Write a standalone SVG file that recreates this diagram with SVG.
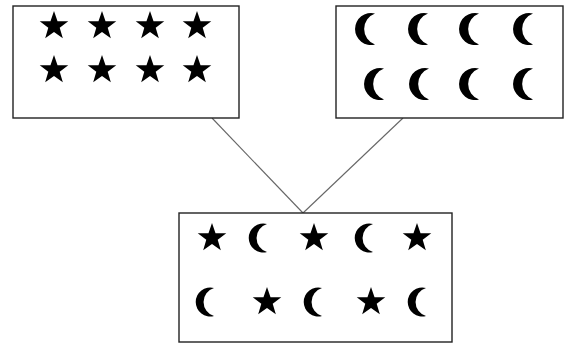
<svg xmlns="http://www.w3.org/2000/svg" xmlns:xlink="http://www.w3.org/1999/xlink" width="568" height="343" viewBox="0 0 568 343">
<style>
.box{fill:#fff;stroke:#222;stroke-width:1.4}
.conn{stroke:#666;stroke-width:1.1;fill:none}
.sym{fill:#000}
</style>
<defs>
<path id="star" class="sym" d="M0,-15 L3.52,-4.85 L14.27,-4.64 L5.71,1.85 L8.82,12.14 L0,6 L-8.82,12.14 L-5.71,1.85 L-14.27,-4.64 L-3.52,-4.85 Z"/>
<path id="moon" class="sym" d="M4,-15.5 A16,16 0 1 0 4,15.5 A16.5,16.5 0 0 1 4,-15.5 Z"/>
<path id="moon2" class="sym" d="M4,-14 A14.5,14.5 0 1 0 4,14 A14.6,14.6 0 0 1 4,-14 Z"/>
</defs>
<rect width="568" height="343" fill="#fff"/>
<g id="connectors">
<line class="conn" x1="212" y1="118" x2="303" y2="213"/>
<line class="conn" x1="403" y1="118" x2="303" y2="213"/>
</g>
<g id="stars-box">
<rect class="box" x="13" y="6" width="226" height="112"/>
<use xlink:href="#star" x="54" y="26"/>
<use xlink:href="#star" x="102" y="26"/>
<use xlink:href="#star" x="150" y="26"/>
<use xlink:href="#star" x="197" y="26"/>
<use xlink:href="#star" x="54" y="70"/>
<use xlink:href="#star" x="102" y="70"/>
<use xlink:href="#star" x="150" y="70"/>
<use xlink:href="#star" x="197" y="70"/>
</g>
<g id="moons-box">
<rect class="box" x="336" y="6" width="227" height="112"/>
<use xlink:href="#moon" x="371" y="29"/>
<use xlink:href="#moon" x="424" y="29"/>
<use xlink:href="#moon" x="475" y="29"/>
<use xlink:href="#moon" x="529" y="29"/>
<use xlink:href="#moon" x="380" y="84"/>
<use xlink:href="#moon" x="425" y="84"/>
<use xlink:href="#moon" x="475" y="84"/>
<use xlink:href="#moon" x="529" y="84"/>
</g>
<g id="mixed-box">
<rect class="box" x="179" y="213" width="273" height="129"/>
<use xlink:href="#star" x="212" y="238"/>
<use xlink:href="#moon2" x="263" y="238"/>
<use xlink:href="#star" x="314" y="238"/>
<use xlink:href="#moon2" x="369" y="238"/>
<use xlink:href="#star" x="417" y="238"/>
<use xlink:href="#moon2" x="210" y="302"/>
<use xlink:href="#star" x="267" y="302"/>
<use xlink:href="#moon2" x="318" y="302"/>
<use xlink:href="#star" x="371" y="302"/>
<use xlink:href="#moon2" x="422" y="302"/>
</g>
</svg>
